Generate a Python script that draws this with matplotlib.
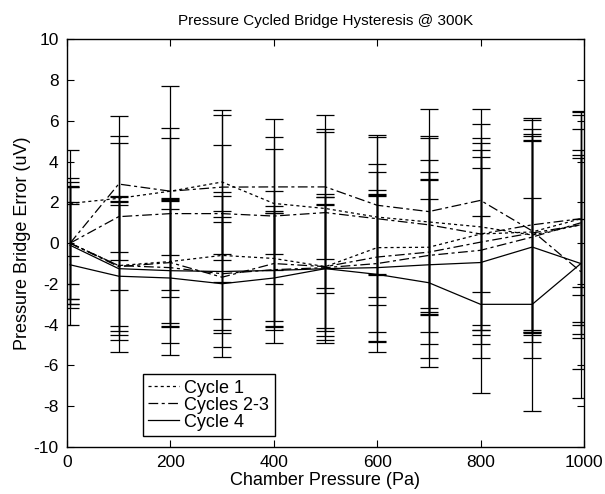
import matplotlib
matplotlib.use("Agg")
import matplotlib.pyplot as plt

plt.rcParams["font.family"] = ["Liberation Sans", "DejaVu Sans"]
plt.rcParams["lines.scale_dashes"] = False
plt.rcParams["axes.unicode_minus"] = False

# chamber pressure (Pa)
pressure = [6, 100, 200, 300, 400, 500, 600, 700, 800, 900, 994]

# bridge error (uV), one list per sweep branch
cyc1_hi = [1.95, 2.2, 2.55, 3.0, 1.95, 1.7, 1.28, 1.04, 0.8, 0.4, 0.9]
cyc1_lo = [0.0, -1.1, -0.9, -0.6, -0.75, -1.15, -0.22, -0.2, 0.45, 0.55, 1.2]
cyc23_a = [0.0, 2.9, 2.55, 2.75, 2.76, 2.76, 1.86, 1.55, 2.1, 0.6, -1.4]
cyc23_b = [0.0, 1.3, 1.45, 1.45, 1.33, 1.5, 1.2, 0.9, 0.45, 0.9, 1.2]
cyc23_c = [0.0, -1.15, -0.95, -1.67, -1.0, -1.15, -0.68, -0.44, 0.05, 0.5, 0.9]
cyc23_d = [0.0, -1.1, -1.2, -1.5, -1.3, -1.2, -1.0, -0.6, -0.35, 0.3, 1.0]
cyc4_hi = [-0.1, -1.25, -1.35, -1.39, -1.34, -1.25, -1.2, -1.06, -0.95, -0.19, -1.0]
cyc4_lo = [-1.06, -1.62, -1.71, -1.99, -1.71, -1.25, -1.53, -1.94, -3.0, -3.0, -1.0]

# error bar half-widths (uV)
err1_hi = [2.6, 3.05, 5.17, 3.52, 3.25, 3.92, 3.92, 4.22, 5.04, 4.68, 5.54]
err1_lo = [2.75, 3.4, 3.0, 3.1, 3.3, 3.4, 2.82, 3.28, 4.73, 5.07, 3.36]
err23_a = [2.75, 3.35, 3.11, 3.56, 3.31, 3.52, 3.44, 5.05, 4.5, 5.43, 2.6]
err23_b = [3.0, 3.59, 3.73, 3.35, 3.31, 3.96, 2.7, 4.26, 4.44, 5.25, 5.08]
err23_c = [3.2, 3.16, 3.1, 2.73, 2.82, 3.03, 4.18, 4.51, 4.54, 4.84, 3.44]
err23_d = [2.0, 2.95, 2.9, 2.76, 2.8, 3.11, 3.34, 3.74, 4.58, 4.72, 5.47]
err4_hi = [2.9, 3.5, 3.56, 3.68, 2.92, 3.5, 3.6, 4.55, 4.66, 5.45, 5.18]
err4_lo = [2.96, 3.7, 3.77, 3.57, 3.17, 3.66, 3.82, 4.11, 4.35, 5.24, 6.6]

DOT = (0, (2.2, 2.2))
DASHDOT = (0, (7, 2.5, 2.2, 2.5))

series = [
    (cyc1_hi, err1_hi, DOT, "Cycle 1"),
    (cyc1_lo, err1_lo, DOT, None),
    (cyc23_a, err23_a, DASHDOT, "Cycles 2-3"),
    (cyc23_b, err23_b, DASHDOT, None),
    (cyc23_c, err23_c, DASHDOT, None),
    (cyc23_d, err23_d, DASHDOT, None),
    (cyc4_hi, err4_hi, "-", "Cycle 4"),
    (cyc4_lo, err4_lo, "-", None),
]

fig = plt.figure(figsize=(6.05, 4.94), dpi=100)
ax = fig.add_axes([0.1107, 0.0951, 0.8545, 0.8253])

handles = []
for y, e, ls, lab in series:
    eb = ax.errorbar(pressure, y, yerr=e, color="k", ls=ls, lw=0.9,
                     elinewidth=0.9, capsize=6.5, capthick=0.9)
    if lab:
        eb.lines[0].set_label(lab)
        handles.append(eb.lines[0])

ax.set_xlim(0, 1000)
ax.set_ylim(-10, 10)
ax.set_xticks(range(0, 1001, 200))
ax.set_yticks(range(-10, 11, 2))
ax.tick_params(direction="in", top=True, right=True, length=5,
               labelsize=12.5, pad=6)
for sp in ax.spines.values():
    sp.set_linewidth(1.0)

ax.set_title("Pressure Cycled Bridge Hysteresis @ 300K", fontsize=11, pad=10)
ax.set_xlabel("Chamber Pressure (Pa)", fontsize=13, labelpad=1)
ax.set_ylabel("Pressure Bridge Error (uV)", fontsize=13, labelpad=2)

leg = ax.legend(handles=handles, loc="lower left", bbox_to_anchor=(0.147, 0.027),
                borderaxespad=0, fontsize=13, labelspacing=0.0,
                handlelength=1.7, handletextpad=0.3, borderpad=0.3,
                fancybox=False, framealpha=1, edgecolor="k")
leg.get_frame().set_linewidth(1.0)

fig.savefig("out.png", dpi=100)
